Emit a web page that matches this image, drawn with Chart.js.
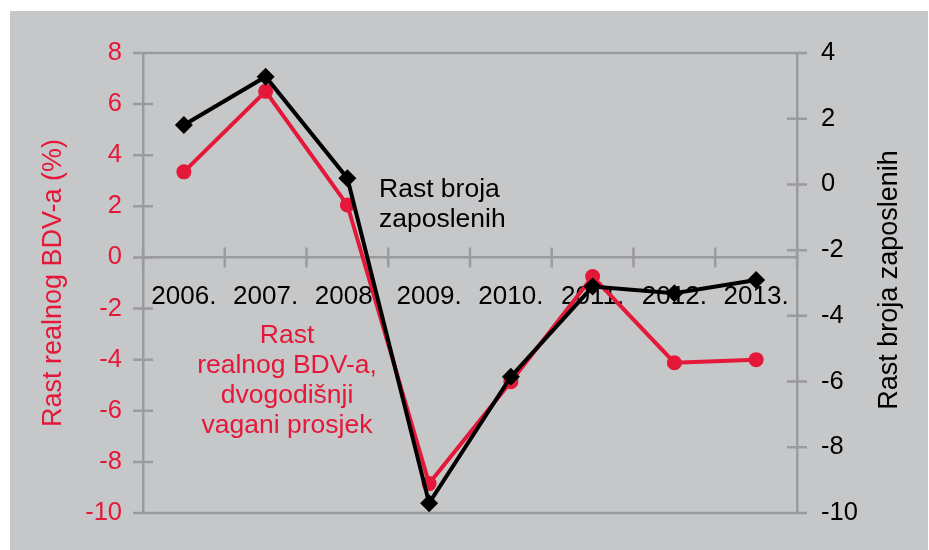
<!DOCTYPE html>
<html>
<head>
<meta charset="utf-8">
<script src="https://cdn.jsdelivr.net/npm/chart.js@4.4.1/dist/chart.umd.min.js"></script>
<style>
  body { margin: 0; background: #ffffff; }
  #box { position: absolute; left: 10px; top: 11px; width: 918px; height: 539px; background: #c6c7c9; }
</style>
</head>
<body>
<div id="box"><canvas id="growthChart" width="918" height="539"></canvas></div>
<script>
// categories and series
const years = ['2006.', '2007.', '2008.', '2009.', '2010.', '2011.', '2012.', '2013.'];
const gvaGrowth = [3.35, 6.5, 2.05, -8.85, -4.86, -0.75, -4.12, -4.0];      // left axis, %
const employmentGrowth = [1.81, 3.28, 0.19, -9.7, -5.85, -3.11, -3.31, -2.91]; // right axis
const leftTicks = { min: -10, max: 8, step: 2 };
const rightTicks = { min: -10, max: 4, step: 2 };

const red = 'rgb(228, 24, 56)';
const axisGray = '#9a9b9d';
const fontFamily = '"Liberation Sans", Arial, sans-serif';

// tick marks that cross the axes, box top/bottom, annotations, right title
const decorations = {
    id: 'decorations',
    beforeDatasetsDraw(chart) {
        const ctx = chart.ctx;
        const area = chart.chartArea;
        const yL = chart.scales.y, yR = chart.scales.y1, x = chart.scales.x;
        ctx.save();
        ctx.strokeStyle = axisGray;
        ctx.lineWidth = 2.5;
        ctx.beginPath();
        ctx.moveTo(area.left, area.top); ctx.lineTo(area.right, area.top);
        ctx.moveTo(area.left, area.bottom); ctx.lineTo(area.right, area.bottom);
        yL.ticks.forEach(t => {
            const py = yL.getPixelForValue(t.value);
            ctx.moveTo(area.left - 10, py); ctx.lineTo(area.left + 10, py);
        });
        yR.ticks.forEach(t => {
            const py = yR.getPixelForValue(t.value);
            ctx.moveTo(area.right - 10, py); ctx.lineTo(area.right + 10, py);
        });
        const zero = yL.getPixelForValue(0);
        const half = (x.getPixelForValue(1) - x.getPixelForValue(0)) / 2;
        for (let i = 0; i <= years.length; i++) {
            const px = x.getPixelForValue(0) - half + i * 2 * half;
            ctx.moveTo(px, zero - 10); ctx.lineTo(px, zero + 10);
        }
        ctx.stroke();

        // annotations
        ctx.font = '26.5px ' + fontFamily;
        ctx.textBaseline = 'alphabetic';
        ctx.fillStyle = '#000';
        ctx.textAlign = 'left';
        ctx.fillText('Rast broja', area.left + 236, area.top + 144);
        ctx.fillText('zaposlenih', area.left + 236, area.top + 174);

        ctx.fillStyle = red;
        ctx.textAlign = 'center';
        const redLines = ['Rast', 'realnog BDV-a,', 'dvogodišnji', 'vagani prosjek'];
        redLines.forEach((s, i) => ctx.fillText(s, area.left + 144, area.top + 290 + i * 30));

        // right axis title, reading upwards
        ctx.fillStyle = '#000';
        ctx.font = '27px ' + fontFamily;
        ctx.textBaseline = 'middle';
        ctx.translate(area.right + 93, (area.top + area.bottom) / 2 - 3);
        ctx.rotate(-Math.PI / 2);
        ctx.fillText('Rast broja zaposlenih', 0, 0);
        ctx.restore();
    }
};

const ctx = document.getElementById('growthChart').getContext('2d');
const growthChart = new Chart(ctx, {
    type: 'line',
    data: {
        labels: years,
        datasets: [
            {
                label: 'Rast realnog BDV-a',
                data: gvaGrowth,
                yAxisID: 'y',
                borderColor: red,
                backgroundColor: red,
                borderWidth: 4,
                pointStyle: 'circle',
                pointRadius: 7.5,
                pointBorderWidth: 0,
                tension: 0,
                order: 1
            },
            {
                label: 'Rast broja zaposlenih',
                data: employmentGrowth,
                yAxisID: 'y1',
                borderColor: '#000',
                backgroundColor: '#000',
                borderWidth: 4,
                pointStyle: 'rectRot',
                pointRadius: 9,
                pointBorderWidth: 0,
                tension: 0,
                order: 0
            }
        ]
    },
    options: {
        responsive: false,
        animation: false,
        layout: { padding: { left: 0, right: 0, top: 42, bottom: 37 } },
        plugins: {
            legend: { display: false },
            tooltip: { enabled: false }
        },
        scales: {
            x: {
                type: 'category',
                position: { y: 0 },
                offset: true,
                grid: { display: true, offset: true, drawOnChartArea: false, tickLength: 10, color: 'transparent' },
                border: { display: true, color: axisGray, width: 2.5 },
                ticks: {
                    color: '#000',
                    font: { family: fontFamily, size: 26 },
                    padding: 14,
                    maxRotation: 0,
                    autoSkip: false
                }
            },
            y: {
                position: 'left',
                min: leftTicks.min,
                max: leftTicks.max,
                afterFit: s => { s.width = 133; },
                grid: { display: true, drawOnChartArea: false, tickLength: 10, color: 'transparent' },
                border: { display: true, color: axisGray, width: 2.5 },
                ticks: {
                    stepSize: leftTicks.step,
                    color: red,
                    font: { family: fontFamily, size: 25.5 },
                    padding: 11
                },
                title: {
                    display: true,
                    text: 'Rast realnog BDV-a (%)',
                    color: red,
                    font: { family: fontFamily, size: 27 },
                    padding: { top: 27, bottom: 0 }
                }
            },
            y1: {
                position: 'right',
                min: rightTicks.min,
                max: rightTicks.max,
                afterFit: s => { s.width = 131; },
                grid: { display: true, drawOnChartArea: false, tickLength: 10, color: 'transparent' },
                border: { display: true, color: axisGray, width: 2.5 },
                ticks: {
                    stepSize: rightTicks.step,
                    color: '#000',
                    font: { family: fontFamily, size: 25.5 },
                    padding: 14
                }
            }
        }
    },
    plugins: [decorations]
});
</script>
</body>
</html>
